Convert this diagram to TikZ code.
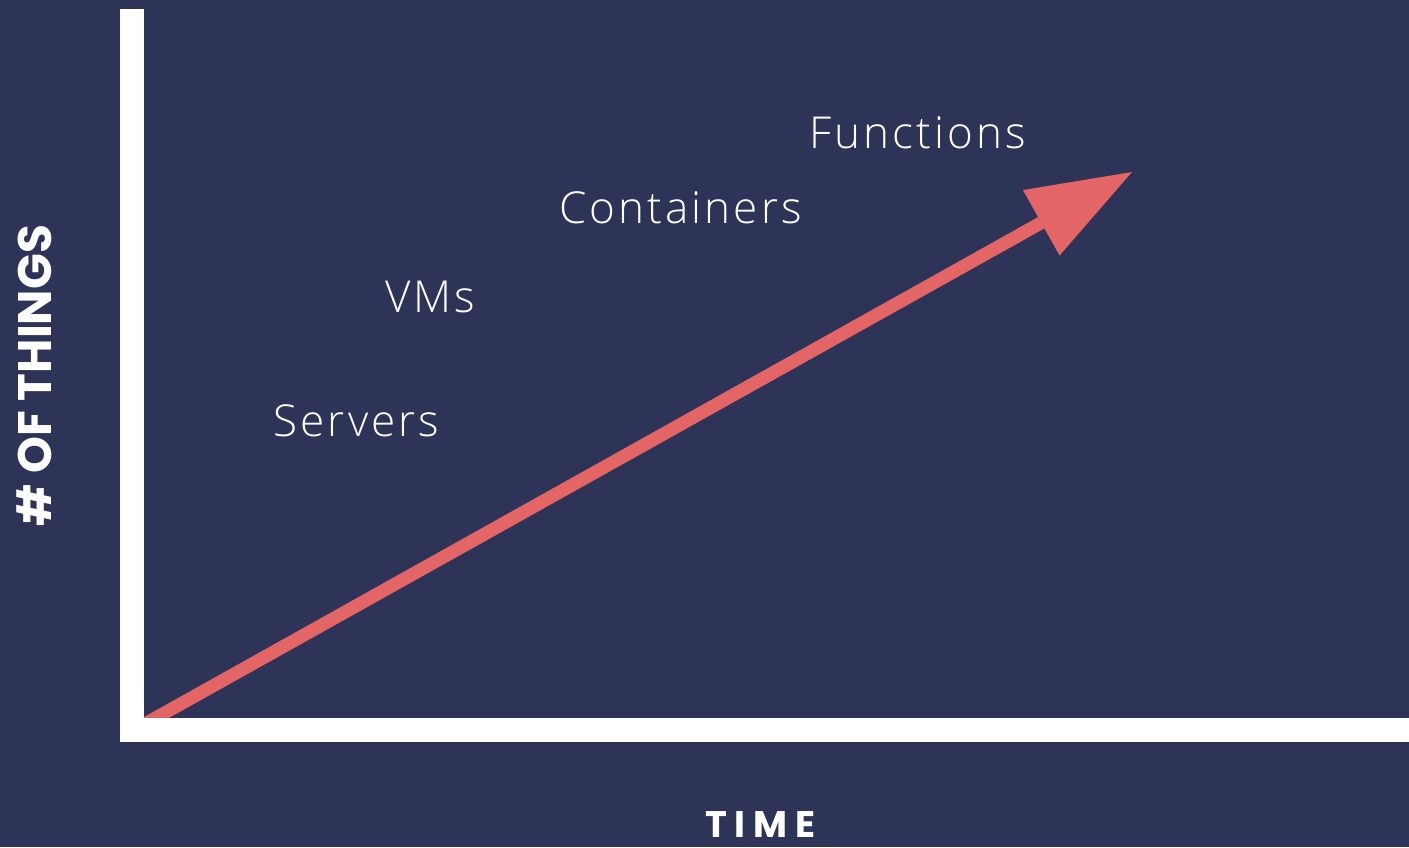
\documentclass[tikz,border=0pt]{standalone}
\usepackage{fontspec}
\usetikzlibrary{arrows.meta}
\newfontfamily\lightfont{Open Sans Light}[Ligatures=NoCommon,LetterSpace=7]
\newfontfamily\heavyfont{Poppins Bold}
\definecolor{navy}{HTML}{2D3457}
\definecolor{salmon}{HTML}{E36566}

\tikzset{
  era/.style={text=white,font=\lightfont\fontsize{44}{44}\selectfont,anchor=base,inner sep=0pt},
  axislabel/.style={text=white,inner sep=0pt,anchor=base,text depth=0pt},
  axisbar/.style={draw=white,line width=24pt},
}

\begin{document}
\begin{tikzpicture}[x=1pt,y=-1pt]
  \useasboundingbox (0,0) rectangle (1409,847);
  \fill[navy] (0,0) rectangle (1409,847);

  \coordinate (start) at (135,729.5);
  \coordinate (tip) at (1132,172);
  \coordinate (ytop) at (131.5,9);
  \coordinate (ybot) at (131.5,741.5);
  \coordinate (xleft) at (119.5,729.5);
  \coordinate (xright) at (1409,729.5);

  % growth arrow, under the axes
  \draw[salmon,line width=13pt,-{Triangle[length=104pt,width=75pt,line width=0pt]}] (start) -- (tip);

  % axes
  \draw[axisbar] (ytop) -- (ybot);
  \draw[axisbar] (xleft) -- (xright);

  \node[era] (servers) at (356.5,436) {Servers};
  \node[era] (vms) at (430.5,312) {VMs};
  \node[era] (containers) at (680.5,223) {Containers};
  \node[era] (functions) at (917.5,148) {Functions};

  \node[axislabel,font=\heavyfont\fontsize{47}{47}\selectfont,rotate=90] (things) at (51,375.5) {\# OF THINGS};
  \node[axislabel,font=\heavyfont\fontsize{37}{37}\selectfont] (time) at (760.5,837) {T\kern8pt I\kern8pt M\kern8pt E};
\end{tikzpicture}
\end{document}
